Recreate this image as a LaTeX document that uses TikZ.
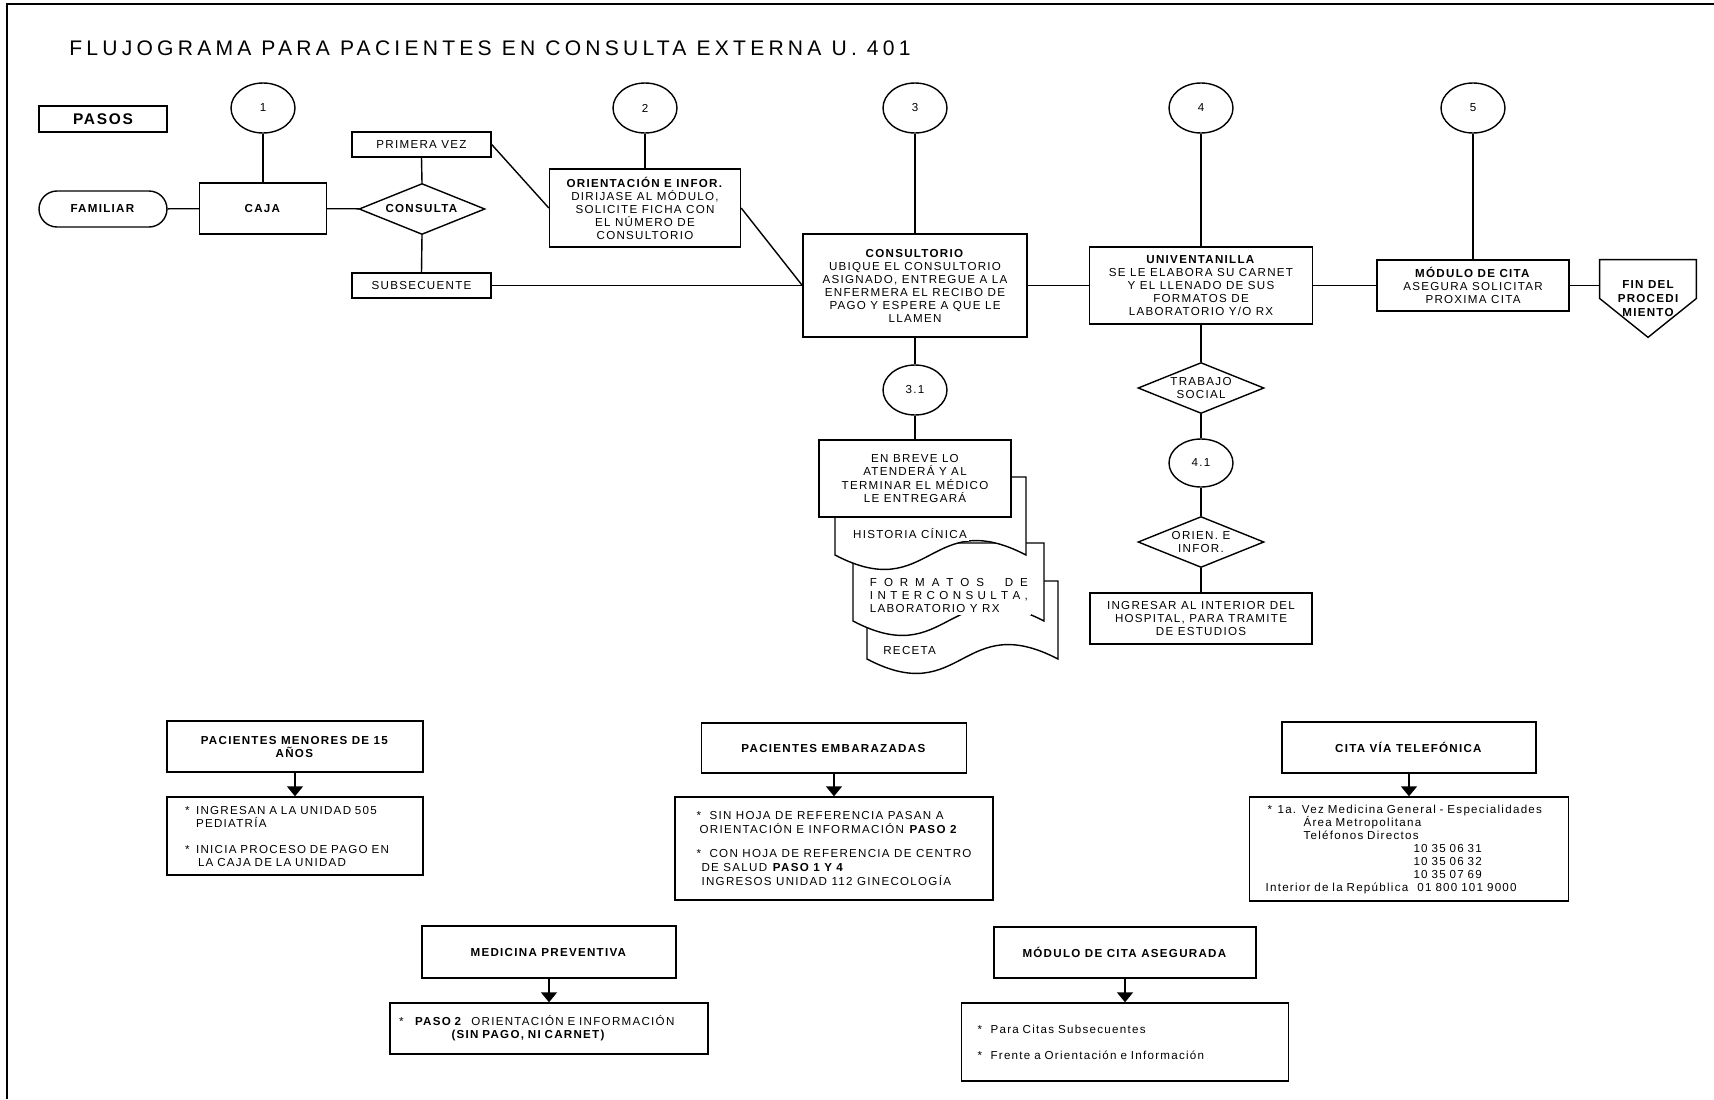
\documentclass[tikz,border=0pt]{standalone}
\usepackage{fontspec}
\setmainfont{Liberation Sans}[LetterSpace=11]
\usepackage{tikz}
\usetikzlibrary{shapes}
\usetikzlibrary{arrows.meta}
\tikzstyle{lin}=[line width=0.8pt]
\tikzstyle{paso}=[draw, ellipse, line width=0.8pt, minimum width=1.28cm, minimum height=1.0cm, inner sep=0pt]
\tikzstyle{proc}=[draw, rectangle, line width=0.8pt, fill=white, inner sep=0pt, align=center]
\tikzstyle{deci}=[draw, diamond, aspect=2.5, line width=0.8pt, inner sep=0pt, align=center, minimum width=2.52cm, minimum height=1.02cm]
\tikzstyle{docu}=[draw, fill=white, line width=0.8pt]
\tikzstyle{txt}=[inner sep=0pt, align=left]
\tikzstyle{arr}=[line width=0.8pt, -{Triangle[width=0.32cm,length=0.2cm]}]

\begin{document}
\begin{tikzpicture}[x=0.02cm, y=-0.02cm, font=\fontsize{6.6}{7.4}\selectfont]
\useasboundingbox (0,0) rectangle (1714,1099);
\draw[line width=1.2pt] (7,1099) -- (7,4) -- (1714,4);
\node[anchor=base west, inner sep=0pt, font=\fontsize{12}{14}\selectfont\addfontfeatures{LetterSpace=20}] (titulo) at (69,55) {FLUJOGRAMA PARA PACIENTES EN CONSULTA EXTERNA U. 401};
\node[proc, minimum width=2.56cm, minimum height=0.52cm, font=\fontsize{8.8}{10}\selectfont\bfseries] (pasos) at (103,119) {PASOS};

\foreach \n/\x in {1/263,2/645,3/915,4/1201,5/1473} {
	\node[paso] (p\n) at (\x,108) {\n};
}
\node[proc, rounded corners=0.36cm, minimum width=2.56cm, minimum height=0.72cm] (fam) at (103,209) {\textbf{FAMILIAR}};
\node[proc, minimum width=2.54cm, minimum height=1.02cm] (caja) at (263,208.5) {\textbf{CAJA}};
\node[deci] (cons) at (422,209) {\textbf{CONSULTA}};
\node[proc, minimum width=2.78cm, minimum height=0.5cm] (pv) at (421.5,144.5) {PRIMERA VEZ};
\node[proc, minimum width=2.78cm, minimum height=0.5cm] (sub) at (421.5,285.5) {SUBSECUENTE};
\node[proc, minimum width=3.82cm, minimum height=1.56cm] (ori) at (645,208) {\textbf{ORIENTACIÓN E INFOR.}\\DIRIJASE AL MÓDULO,\\SOLICITE FICHA CON\\EL NÚMERO DE\\CONSULTORIO};
\node[proc, minimum width=4.48cm, minimum height=2.06cm] (cto) at (915,285.5) {\textbf{CONSULTORIO}\\UBIQUE EL CONSULTORIO\\ASIGNADO, ENTREGUE A LA\\ENFERMERA EL RECIBO DE\\PAGO Y ESPERE A QUE LE\\LLAMEN};
\node[proc, minimum width=4.46cm, minimum height=1.54cm] (uni) at (1201,285.5) {\textbf{UNIVENTANILLA}\\SE LE ELABORA SU CARNET\\Y EL LLENADO DE SUS\\FORMATOS DE\\LABORATORIO Y/O RX};
\node[proc, minimum width=3.84cm, minimum height=1.02cm] (mc) at (1473,285.5) {\textbf{MÓDULO DE CITA}\\ASEGURA SOLICITAR\\PROXIMA CITA};
\node[minimum width=1.92cm, minimum height=1.54cm, inner sep=0pt, align=center, font=\fontsize{6.6}{8}\selectfont\bfseries] (fin) at (1648,298.5) {FIN DEL\\PROCEDI\\MIENTO};
\draw[lin] (fin.north west) -- (fin.north east) -- (fin.east) -- (fin.south) -- (fin.west) -- cycle;

\node[paso] (p31) at (915,390) {3.1};
\foreach \l/\t in {867/581, 853/543, 835/477} {
	\filldraw[docu] (\l,\t) -- (\l+191,\t) -- (\l+191,\t+78) .. controls (\l+95,\t+28) and (\l+95,\t+128) .. (\l,\t+78) -- cycle;
}
\node[txt, fill=white, inner sep=1pt] (hc) at (851,534) [anchor=west] {HISTORIA CÍNICA};
\node[txt, fill=white, inner sep=1.5pt] (fmt) at (867,575) [anchor=north west] {\makebox[3.16cm]{F\hfill O\hfill R\hfill M\hfill A\hfill T\hfill O\hfill S\hfill\hfill\hfill D\hfill E}\\\makebox[3.16cm]{I\hfill N\hfill T\hfill E\hfill R\hfill C\hfill O\hfill N\hfill S\hfill U\hfill L\hfill T\hfill A\hfill ,}\\LABORATORIO Y RX};
\node[txt] (rec) at (883,650) [anchor=west] {RECETA};
\node[proc, minimum width=3.84cm, minimum height=1.54cm] (enb) at (915,478.5) {EN BREVE LO\\ATENDERÁ Y AL\\TERMINAR EL MÉDICO\\LE ENTREGARÁ};

\node[deci] (ts) at (1201,388) {TRABAJO\\SOCIAL};
\node[paso, minimum height=0.96cm] (p41) at (1201,463) {4.1};
\node[deci] (oi) at (1201,542) {ORIEN. E\\INFOR.};
\node[proc, minimum width=4.44cm, minimum height=1.02cm] (ing) at (1201,618.5) {INGRESAR AL INTERIOR DEL\\HOSPITAL, PARA TRAMITE\\DE ESTUDIOS};

\foreach \a/\b in {fam/caja, p1/caja, caja/cons, pv.south/cons.north, cons.south/sub.north, pv.east/ori.west, p2/ori, ori.east/cto.west, sub.east/cto.west, p3/cto, cto/uni, p4/uni, uni/mc, p5/mc, cto/p31, p31/enb, uni/ts, ts/p41, p41/oi, oi/ing} {
	\draw[lin] (\a) -- (\b);
}
\draw[lin] (mc.east) -- (mc.east -| fin.west);

\node[proc, minimum width=5.12cm, minimum height=1.02cm] (pm) at (295,746.5) {\textbf{PACIENTES MENORES DE 15}\\\textbf{AÑOS}};
\node[proc, minimum width=5.12cm, minimum height=1.56cm, align=left, text width=4.4cm, inner xsep=0.36cm] (pmc) at (295,836) {\makebox[0.22cm][l]{*}INGRESAN A LA UNIDAD 505\\\hspace*{0.22cm}PEDIATRÍA\\[7.4pt]\makebox[0.22cm][l]{*}INICIA PROCESO DE PAGO EN\\\hspace*{0.26cm}LA CAJA DE LA UNIDAD};
\node[proc, minimum width=5.30cm, minimum height=1.0cm] (pe) at (834,748) {\textbf{PACIENTES EMBARAZADAS}};
\node[proc, minimum width=6.36cm, minimum height=2.06cm, align=left, font=\fontsize{6.6}{8}\selectfont] (pec) at (834,848.5) {\makebox[0.26cm][l]{*}SIN HOJA DE REFERENCIA PASAN A\\\hspace*{0.06cm}ORIENTACIÓN E INFORMACIÓN \textbf{PASO 2}\\[5.7pt]\makebox[0.26cm][l]{*}CON HOJA DE REFERENCIA DE CENTRO\\\hspace*{0.1cm}DE SALUD \textbf{PASO 1 Y 4}\\\hspace*{0.1cm}INGRESOS UNIDAD 112 GINECOLOGÍA};
\node[proc, minimum width=5.08cm, minimum height=1.02cm] (ct) at (1409,747.5) {\textbf{CITA VÍA TELEFÓNICA}};
\node[proc, minimum width=6.38cm, minimum height=2.08cm, align=left, text width=5.74cm, inner xsep=0.32cm] (ctc) at (1409,849) {\hspace*{0.04cm}\makebox[0.2cm][l]{*}1a. Vez Medicina General - Especialidades\\\hspace*{0.76cm}Área Metropolitana\\\hspace*{0.76cm}Teléfonos Directos\\\hspace*{2.96cm}10 35 06 31\\\hspace*{2.96cm}10 35 06 32\\\hspace*{2.96cm}10 35 07 69\\\makebox[3.04cm][l]{Interior de la República}01 800 101 9000};
\node[proc, minimum width=5.08cm, minimum height=1.04cm] (mp) at (549,952) {\textbf{MEDICINA PREVENTIVA}};
\node[proc, minimum width=6.36cm, minimum height=1.02cm, align=left, text width=6.0cm, inner xsep=0.18cm] (mpc) at (549,1028.5) {\makebox[0.32cm][l]{*}\textbf{PASO 2}\hspace{0.1cm} ORIENTACIÓN E INFORMACIÓN\\\hspace*{1.05cm}\textbf{(SIN PAGO, NI CARNET)}};
\node[proc, minimum width=5.24cm, minimum height=1.02cm] (ma) at (1125,952.5) {\textbf{MÓDULO DE CITA ASEGURADA}};
\node[proc, minimum width=6.54cm, minimum height=1.56cm, align=left, text width=5.9cm, inner xsep=0.32cm] (mac) at (1125,1042) {\makebox[0.26cm][l]{*}Para Citas Subsecuentes\\[7.4pt]\makebox[0.26cm][l]{*}Frente a Orientación e Información};

\foreach \a/\b in {pm/pmc, pe/pec, ct/ctc, mp/mpc, ma/mac} {
	\draw[arr] (\a) -- (\b);
}
\end{tikzpicture}
\end{document}
